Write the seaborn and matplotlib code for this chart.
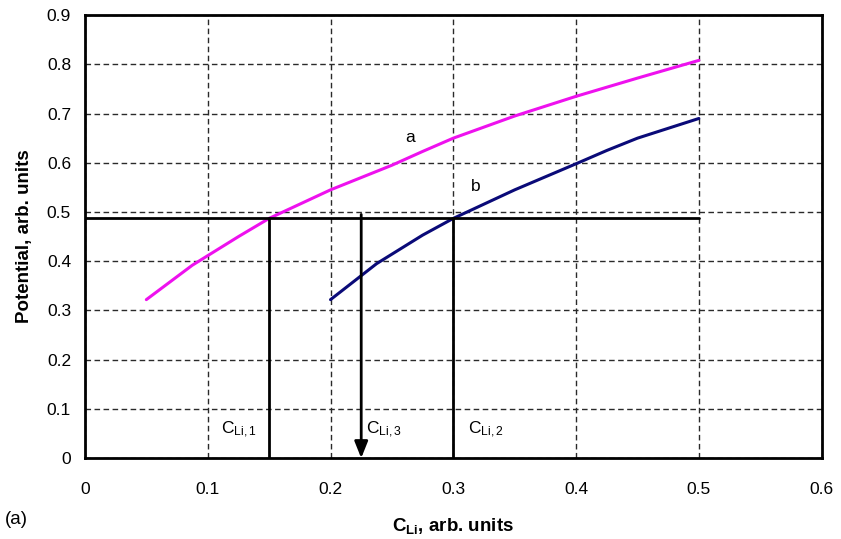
import matplotlib
matplotlib.use("Agg")
import matplotlib.pyplot as plt
import seaborn as sns
import pandas as pd

# curve a
xa = [0.05, 0.0875, 0.125, 0.15, 0.2, 0.25, 0.275, 0.3, 0.35, 0.4, 0.45, 0.5]
ya = [0.322, 0.392, 0.450, 0.487, 0.545, 0.595, 0.623, 0.650, 0.695, 0.735, 0.772, 0.808]
# curve b
xb = [0.2, 0.2375, 0.275, 0.3, 0.35, 0.4, 0.425, 0.45, 0.5]
yb = [0.322, 0.395, 0.453, 0.487, 0.545, 0.598, 0.625, 0.650, 0.690]

level = 0.487
c1, c3, c2 = 0.15, 0.225, 0.30

xticks = [0, 0.1, 0.2, 0.3, 0.4, 0.5, 0.6]
yticks = [0, 0.1, 0.2, 0.3, 0.4, 0.5, 0.6, 0.7, 0.8, 0.9]

sns.set_style("white")
plt.rcParams['font.family'] = ['Liberation Sans', 'DejaVu Sans']
plt.rcParams['mathtext.default'] = 'regular'
plt.rcParams['text.color'] = 'black'
plt.rcParams['axes.labelcolor'] = 'black'
plt.rcParams['xtick.color'] = 'black'
plt.rcParams['ytick.color'] = 'black'

df = pd.concat([
    pd.DataFrame({'x': xa, 'y': ya, 'curve': 'a'}),
    pd.DataFrame({'x': xb, 'y': yb, 'curve': 'b'}),
])

fig = plt.figure(figsize=(8.41, 5.39), dpi=100)
ax = fig.add_axes([0.101, 0.150, 0.876, 0.822])

ax.set_axisbelow(True)
ax.grid(True, color='#2a2a2a', linestyle=(0, (4, 2.5)), linewidth=1.0)

sns.lineplot(data=df, x='x', y='y', hue='curve', palette={'a': '#ee11ee', 'b': '#0a0a78'},
             linewidth=2.2, legend=False, ax=ax, sort=False)

# construction lines
ax.plot([0, 0.5], [level, level], color='black', lw=2)
ax.plot([c1, c1], [0, level], color='black', lw=2)
ax.plot([c2, c2], [0, level], color='black', lw=2)
ax.annotate('', xy=(c3, 0), xytext=(c3, 0.495),
            arrowprops=dict(arrowstyle='-|>,head_width=0.4,head_length=1.0', color='black', lw=2,
                            shrinkA=0, shrinkB=0))

ax.text(0.265, 0.652, 'a', fontsize=12.5, ha='center', va='center')
ax.text(0.318, 0.551, 'b', fontsize=12.5, ha='center', va='center')
ax.text(0.111, 0.058, r'C$_{Li,1}$', fontsize=12.5, ha='left', va='center')
ax.text(0.229, 0.058, r'C$_{Li,3}$', fontsize=12.5, ha='left', va='center')
ax.text(0.312, 0.058, r'C$_{Li,2}$', fontsize=12.5, ha='left', va='center')

ax.set_xlim(0, 0.6)
ax.set_ylim(0, 0.9)
ax.set_xticks(xticks)
ax.set_yticks(yticks)
ax.set_xticklabels([f'{t:g}' for t in xticks])
ax.set_yticklabels([f'{t:g}' for t in yticks])
ax.tick_params(axis='x', direction='out', length=5, width=1, labelsize=12.5, color='black', pad=12)
ax.tick_params(axis='y', direction='out', length=5, width=1, labelsize=12.5, color='black', pad=5)

for s in ax.spines.values():
    s.set_linewidth(2)
    s.set_color('black')

ax.set_xlabel(r'C$_{Li}$, arb. units', fontsize=13.5, fontweight='bold', labelpad=14)
ax.set_ylabel('Potential, arb. units', fontsize=13.5, fontweight='bold', labelpad=10)

fig.text(0.006, 0.028, '(a)', fontsize=13.5)

fig.savefig('out.png', dpi=100)
